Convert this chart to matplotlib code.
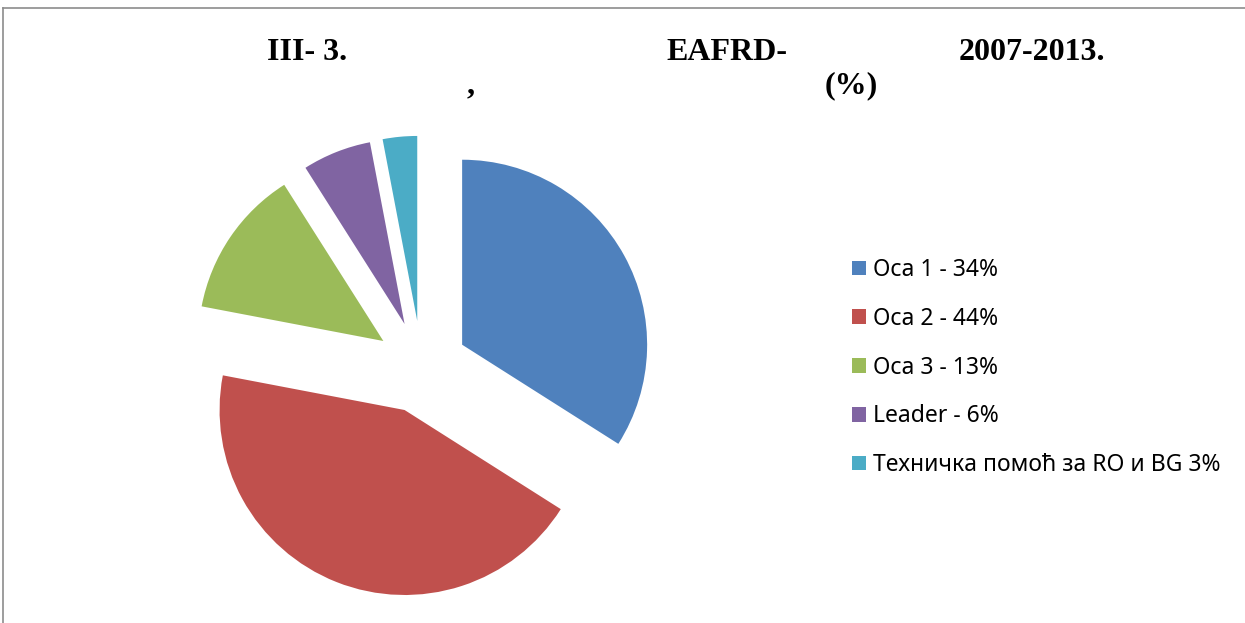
import matplotlib
matplotlib.use("Agg")
import matplotlib.pyplot as plt
from matplotlib.patches import Patch
from matplotlib.lines import Line2D

labels = ["Оса 1 - 34%", "Оса 2 - 44%", "Оса 3 - 13%", "Leader - 6%",
          "Техничка помоћ за RO и BG 3%"]
values = [34, 44, 13, 6, 3]
colors = ["#4F81BD", "#C0504D", "#9BBB59", "#8064A2", "#4BACC6"]
title_parts = [("III- 3.", 267, 60), ("EAFRD-", 666, 60), ("2007-2013.", 959, 60),
               (",", 467, 93), ("(%)", 825, 93)]

W, H = 1245, 623
fig = plt.figure(figsize=(W / 100, H / 100), dpi=100)

# border
fig.add_artist(Line2D([3 / W, 3 / W], [0, 1 - 8 / H], color="#8c8c8c", lw=1.2))
fig.add_artist(Line2D([3 / W, 1], [1 - 8 / H, 1 - 8 / H], color="#8c8c8c", lw=1.2))

cx, cy, R, half = 421.6, 367, 185, 250
ax = fig.add_axes([(cx - half) / W, (H - cy - half) / H, 2 * half / W, 2 * half / H])
wedges, _ = ax.pie(values, colors=colors, startangle=90, counterclock=False,
                   explode=[0.25] * len(values), radius=1)
ax.set_xlim(-half / R, half / R)
ax.set_ylim(-half / R, half / R)
ax.set_aspect("equal")
ax.axis("off")

for s, x, y in title_parts:
    fig.text(x / W, 1 - y / H, s, ha="left", va="baseline",
             fontfamily="Liberation Serif", fontweight="bold", fontsize=23)

handles = [Patch(facecolor=c, edgecolor="none") for c in colors]
leg = fig.legend(handles, labels, loc="upper left",
                 bbox_to_anchor=(852 / W, 1 - 258 / H), frameon=False,
                 prop={"family": "Noto Sans", "size": 16.5},
                 handlelength=0.61, handleheight=0.61, handletextpad=0.3,
                 labelspacing=1.08, borderpad=0, borderaxespad=0)

fig.savefig("out.png", dpi=100)
